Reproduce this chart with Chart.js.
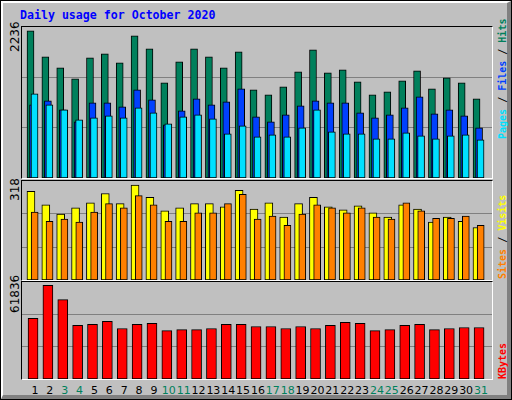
<!DOCTYPE html>
<html><head><meta charset="utf-8">
<script src="https://cdn.jsdelivr.net/npm/chart.js@4"></script>
<style>
body{margin:0;background:#fff}
#wrap{position:absolute;left:0;top:0;width:510px;height:398px;border:1px solid #000;background:#C0C0C0;}
#bev{position:absolute;left:0;top:0;width:504px;height:392px;border-top:2px solid #fff;border-left:2px solid #fff;border-right:4px solid #808080;border-bottom:4px solid #808080;}
.panel{position:absolute;left:20px;width:470px;border-top:1px solid #000;border-left:1px solid #000;border-right:1px solid #fff;border-bottom:1px solid #fff;}
.panel canvas{position:absolute;left:0;top:0}
.rot{position:absolute;transform:rotate(-90deg);transform-origin:0 0;white-space:nowrap;line-height:10px}
.tick{font:12px "DejaVu Sans",sans-serif;color:#000;line-height:11px}
.side{font:bold 10px "DejaVu Sans Mono",monospace}
#title{position:absolute;left:19px;top:7px;font:bold 11.6px "DejaVu Sans Mono",monospace;color:#0000FF}
.xl{position:absolute;top:383px;width:20px;margin-left:-10px;text-align:center;font:11px "DejaVu Sans",sans-serif}
</style></head><body>
<div id="wrap"><div id="bev"></div>
<div id="title">Daily usage for October 2020</div>
<div class="panel" style="top:25px;height:151px"><canvas id="c1"></canvas></div>
<div class="panel" style="top:179px;height:99px"><canvas id="c2"></canvas></div>
<div class="panel" style="top:280px;height:97px"><canvas id="c3"></canvas></div>
<div class="rot tick" style="left:9px;top:51px">2236</div>
<div class="rot tick" style="left:9px;top:200px">318</div>
<div class="rot tick" style="left:9px;top:312px">61836</div>
<div class="rot side" style="left:496px;top:138px"><span style="color:#00E0FF">Pages</span><span style="color:#000"> / </span><span style="color:#0040FF">Files</span><span style="color:#000"> / </span><span style="color:#00805C">Hits</span></div>
<div class="rot side" style="left:496px;top:278px"><span style="color:#FF8000">Sites</span><span style="color:#000"> / </span><span style="color:#FFFF00">Visits</span></div>
<div class="rot side" style="left:496px;top:378px"><span style="color:#FF0000">KBytes</span></div>
<div id="xlabels"></div>
</div>
<script>
const days = Array.from({length:31},(_,i)=>i+1);
const weekend = [3,4,10,11,17,18,24,25,31];
const hits  = [2236,1842,1675,1508,1826,1887,1750,2160,1963,1447,1766,1963,1842,1675,1917,1341,1265,1386,1614,1948,1599,1644,1462,1265,1310,1477,1629,1356,1523,1447,1204];
const files = [1113,1174,1037,855,1143,1143,1083,1341,1189,809,1022,1204,1113,1159,1356,931,855,961,1098,1174,1143,1143,992,916,961,1067,1234,976,1037,946,764];
const pages = [1280,1113,1037,885,916,946,916,1067,992,825,931,961,901,673,794,627,658,627,764,1037,703,673,673,597,597,688,643,597,643,658,582];
const visits= [297,252,221,242,259,290,256,318,277,232,242,256,256,245,301,238,259,211,256,277,245,235,249,225,211,252,238,194,211,197,176];
const sites = [228,197,204,194,228,256,242,283,252,197,197,225,225,256,287,204,214,183,221,252,242,225,242,211,204,259,232,207,207,214,183];
const kbytes= [40090,61836,52320,35330,36010,38050,33300,36010,36690,31940,32620,32620,33300,36010,36010,34650,34650,33300,34650,33300,35330,37370,36690,31940,32620,35330,36010,32620,33300,33980,33980];

const XMIN=0.128, XMAX=31.74, W=470;
function ds(vals,off,color,th,ord){
  return {data:vals.map((v,i)=>({x:days[i]+off,y:v})),backgroundColor:color,borderColor:'#000',borderWidth:1,barThickness:th,grouped:false,borderSkipped:false,order:ord};
}
function mk(id,h,max,sets){
  const c=document.getElementById(id);
  new Chart(c,{type:'bar',data:{datasets:sets},options:{
    responsive:false,animation:false,devicePixelRatio:1,
    layout:{padding:0},
    plugins:{legend:{display:false},tooltip:{enabled:false}},
    scales:{
      x:{type:'linear',min:XMIN,max:XMAX,offset:false,display:false},
      y:{min:0,max:max,border:{display:false},ticks:{display:false},
         grid:{color:'#808080',lineWidth:1,drawTicks:false},
         afterBuildTicks:s=>{s.ticks=[{value:max/3},{value:2*max/3}];},
         afterFit:s=>{s.width=0;}}
    }}});
}
function size(id,h){const c=document.getElementById(id);c.width=W;c.height=h;c.style.width=W+'px';c.style.height=h+'px';}
size('c1',151);size('c2',99);size('c3',97);
mk('c1',151,2296,[ds(hits,-0.3,'#00805C',7,3),ds(files,-0.13,'#0040FF',7,2),ds(pages,-0.03,'#00E0FF',7,1)]);
mk('c2',99,332,[ds(visits,-0.27,'#FFFF00',8,2),ds(sites,-0.02,'#FF8000',7,1)]);
mk('c3',97,64000,[ds(kbytes,-0.13,'#FF0000',10,1)]);

const xl=document.getElementById('xlabels');
days.forEach(d=>{
  const e=document.createElement('div');e.className='xl';
  e.style.left=(21+(d-XMIN)/(XMAX-XMIN)*W)+'px';
  e.style.color=weekend.includes(d)?'#00805C':'#000';
  e.textContent=d;xl.appendChild(e);
});
</script></body></html>
